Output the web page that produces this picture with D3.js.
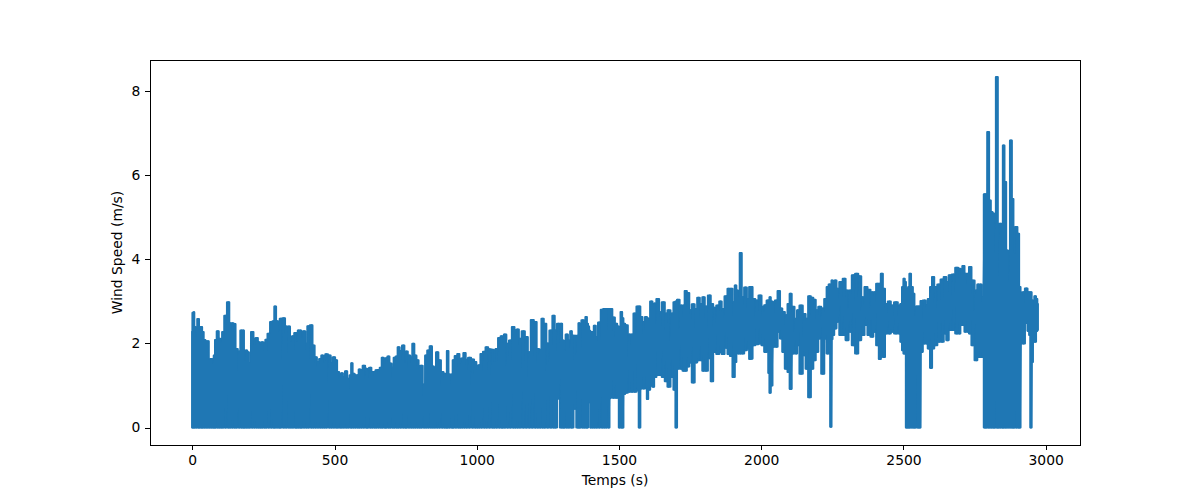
<!DOCTYPE html>
<html>
<head>
<meta charset="utf-8">
<script src="https://cdn.jsdelivr.net/npm/d3@7/dist/d3.min.js"></script>
<style>
html,body{margin:0;padding:0;background:#fff}
svg{display:block}
text{font-family:"DejaVu Sans",sans-serif;font-size:13.89px;fill:#000}
</style>
</head>
<body>
<svg id="chart" width="1200" height="500"></svg>
<script>
const xTicks = [0,500,1000,1500,2000,2500,3000];
const yTicks = [0,2,4,6,8];
const xTitle = "Temps (s)";
const yTitle = "Wind Speed (m/s)";
const floorSpeed = 0;

const calmTime = [
0,2,6,8,14,21,26,32,37,43,
49,55,61,67,73,78,82,90,96,102,
108,117,127,133,141,149,155,165,173,179,
184,190,196,202,211,219,227,234,240,246,
254,260,269,278,286,291,298,305,310,322,
330,340,347,354,363,368,374,380,385,393,
401,408,419,426,434,442,450,457,464,471,
483,490,498,506,512,520,526,533,541,548,
558,560,567,574,582,588,595,603,612,617,
626,633,641,647,655,663,669,677,682,690,
696,705,711,719,725,733,742,749,753,762,
770,777,784,792,799,805,815,822,830,839,
846,853,861,869,879,887,893,897,904,913,
918,927,936,942,949,957,965,974,986,995,
1002,1009,1017,1027,1035,1045,1056,1062,1070,1080,
1088,1092,1099,1109,1118,1129,1136,1144,1152,1164,
1174,1185,1195,1206,1215,1223,1232,1239,1250,1261,
1271,1277];
const calmPeak = [
2.27,2.73,2.74,2.39,2.15,2.58,2.31,2.39,2.27,2.08,
2.05,2.05,1.59,1.63,1.51,1.71,2.08,2.29,2.11,1.99,
2.27,2.66,2.98,2.48,2.48,2.46,1.87,1.81,2.31,2.31,
1.56,1.83,1.79,1.52,2.27,2.11,2.13,2.03,1.95,2.03,
1.98,2.09,2.23,2.51,2.53,2.88,2.53,2.27,2.59,2.60,
2.40,2.40,2.03,2.17,2.25,2.03,2.31,2.31,2.11,2.29,
1.99,2.41,2.43,1.95,1.67,1.56,1.63,1.71,1.52,1.74,
1.71,1.52,1.67,1.60,1.32,1.24,1.29,1.20,1.34,1.16,
1.24,1.53,1.28,1.24,1.24,1.38,1.37,1.47,1.40,1.34,
1.42,1.32,1.32,1.36,1.37,1.42,1.66,1.50,1.65,1.69,
1.52,1.42,1.66,1.69,1.91,1.82,1.95,1.53,1.81,1.71,
1.66,1.99,1.71,1.60,1.40,1.47,1.02,1.71,1.83,1.93,
1.45,1.40,1.79,1.60,1.32,1.28,1.21,1.82,1.26,1.26,
1.60,1.70,1.75,1.51,1.64,1.77,1.61,1.66,1.62,1.56,
1.36,1.48,1.75,1.80,1.91,1.86,1.85,1.56,1.87,2.13,
2.17,1.99,2.21,1.99,2.07,2.39,2.31,2.33,2.11,2.29,
2.15,1.79,2.56,2.51,1.87,1.85,2.59,2.47,2.00,2.31,
2.66,2.31];

const gustTime = [
1287,1297,1303,1308,1317,1324,1333,1335,1345,1355,
1360,1363,1373,1379,1385,1389,1393,1397,1401,1408,
1415,1422,1431,1441,1448,1455,1464,1469,1472,1481,
1490,1497,1502,1509,1513,1518,1525,1537,1546,1556,
1567,1572,1578,1587,1596,1600,1605,1614,1621,1626,
1637,1645,1656,1666,1675,1687,1696,1701,1707,1719,
1728,1734,1743,1751,1761,1771,1779,1789,1797,1806,
1819,1826,1836,1848,1857,1865,1877,1886,1894,1904,
1910,1915,1921,1928,1935,1945,1954,1961,1966,1973,
1985,1996,2006,2015,2023,2027,2031,2036,2043,2053,
2062,2070,2078,2088,2097,2103,2111,2123,2129,2140,
2152,2160,2170,2179,2187,2196,2205,2217,2226,2234,
2240,2245,2249,2252,2261,2268,2281,2292,2301,2313,
2324,2336,2346,2357,2369,2378,2390,2398,2410,2417,
2424,2431,2439,2451,2460,2474,2486,2492,2498,2502,
2507,2510,2514,2519,2523,2530,2536,2541,2547,2551,
2554,2558,2562,2574,2582,2589,2598,2603,2613,2625,
2636,2647,2654,2664,2676,2688,2697,2703,2711,2718,
2727,2734,2744,2756,2763,2771,2779,2786,2791,2798,
2804,2810,2816,2821,2829,2834,2840,2847,2852,2858,
2864,2871,2878,2884,2889,2897,2904,2909,2914,2922,
2932,2940,2944,2948,2953,2957,2963,2969,2972];
const gustPeak = [
2.47,2.47,2.07,1.83,2.21,2.07,2.29,2.19,2.18,2.18,
2.48,2.35,2.55,2.31,2.63,2.47,2.40,2.30,2.27,2.27,
2.42,2.15,2.50,2.80,2.82,2.82,2.82,2.82,2.82,2.62,
2.47,2.40,2.37,2.75,2.60,2.47,2.43,2.21,2.21,2.71,
2.88,2.88,2.63,2.51,2.63,2.60,2.51,3.00,2.90,2.95,
3.06,2.74,2.98,2.71,2.79,2.71,2.98,3.00,3.04,2.90,
2.90,3.25,3.20,2.79,2.93,2.82,3.09,2.94,3.10,2.88,
3.14,2.94,2.85,2.90,3.00,2.82,3.12,3.30,3.30,2.98,
3.38,3.26,3.10,4.15,3.10,3.33,3.06,3.34,3.34,3.06,
3.02,3.14,2.87,2.91,3.02,3.00,3.10,3.00,2.98,3.02,
3.25,2.83,2.75,2.67,2.94,3.18,2.87,2.59,2.79,2.90,
2.70,2.59,3.12,3.09,3.04,2.79,2.87,2.83,3.06,3.34,
3.40,3.38,3.50,3.48,3.50,3.30,3.46,3.54,3.26,3.26,
3.62,3.66,3.60,3.10,3.34,3.28,3.22,3.22,3.42,3.42,
3.66,3.30,2.94,3.00,2.90,2.98,2.90,2.94,3.34,3.54,
3.46,3.26,3.30,3.34,3.66,3.34,3.18,2.63,2.88,2.88,
2.88,2.86,3.01,3.02,2.90,3.06,3.34,3.58,3.34,3.40,
3.52,3.58,3.46,3.62,3.64,3.80,3.78,3.62,3.84,3.66,
3.66,3.82,3.50,3.26,3.40,3.40,3.10,5.55,5.55,7.03,
5.40,5.13,5.09,4.13,8.34,3.58,4.85,4.85,6.71,5.84,
4.21,3.46,6.83,5.44,4.13,4.77,4.61,3.34,3.18,3.22,
3.31,3.22,3.22,3.22,3.02,2.78,3.12,3.06,2.94];
const gustLow = [
0.69,0,0,0,0,0,0,0,0.45,0,
0,0,0,0,0,0,0.80,0.60,0,0,
0,0,0,0,0,0,0,0.70,0.82,0.71,
0.71,0.71,0,0,0,0.80,0.83,0.85,0.85,0.85,
0.90,0,0.93,0.93,0.98,0.68,0.90,1.00,0.97,1.20,
1.25,1.25,1.20,1.10,0.97,1.20,0.90,0,1.40,1.40,
1.35,1.35,1.45,1.55,1.07,1.55,1.60,1.60,1.35,1.35,
1.65,1.10,1.80,1.75,1.80,1.75,1.90,1.75,1.70,1.20,
1.56,1.80,1.76,1.76,1.76,1.84,1.88,1.63,1.64,1.96,
1.98,2.00,1.96,1.80,1.96,1.30,0.83,1.00,1.92,1.92,
2.28,2.12,1.80,1.40,1.32,0.92,1.76,1.76,1.96,1.28,
1.72,1.40,0.72,1.40,1.60,1.80,2.12,1.28,2.12,1.76,
1.80,0.02,2.10,2.20,2.36,2.52,2.20,2.20,2.08,2.28,
1.96,1.76,2.08,2.20,2.44,2.20,2.16,2.28,1.96,1.63,
1.84,1.68,2.24,2.24,2.28,2.24,2.24,2.04,1.84,1.76,
1.76,0,0,0,0,0,0,0,1.68,0,
0,0,1.80,2.00,2.00,1.88,1.42,1.88,1.96,2.04,
2.04,2.24,2.08,2.32,2.32,2.24,2.24,2.44,2.44,2.28,
2.28,2.24,1.96,1.60,1.68,1.68,1.68,0,0,0,
0,0,0,0,0,0,0,0,0,0,
0,0,0,0,0,0,0,0,2.00,2.00,
2.49,2.30,2.20,0,1.56,2.04,2.04,2.30,2.33];

const plot = {left:150, right:1080, top:60, bottom:445};
const svg = d3.select("#chart");

const x = d3.scaleLinear().domain([-148.6, 3120.6]).range([plot.left, plot.right]);
const y = d3.scaleLinear().domain([-0.4165, 8.7465]).range([plot.bottom, plot.top]);

const rows = [];
calmTime.forEach((t,i) => rows.push({t, hi:calmPeak[i], lo:floorSpeed}));
gustTime.forEach((t,i) => rows.push({t, hi:gustPeak[i], lo:gustLow[i]}));

// The recording oscillates faster than a pixel, so it reads as a solid band
// between its upper and lower readings, with the same 1.5pt pen round it.
const band = d3.area().curve(d3.curveStep).x(d => x(d.t)).y0(d => y(d.lo)).y1(d => y(d.hi));
svg.append("path")
  .attr("d", band(rows))
  .attr("fill", "#1f77b4")
  .attr("stroke", "#1f77b4")
  .attr("stroke-width", 2.08)
  .attr("stroke-linejoin", "round");

const swing = rows.flatMap(d => [[d.t, d.hi], [d.t, d.lo]]);
svg.append("path")
  .attr("d", d3.line().x(d => x(d[0])).y(d => y(d[1]))(swing))
  .attr("fill", "none")
  .attr("stroke", "#1f77b4")
  .attr("stroke-width", 2.08)
  .attr("stroke-linejoin", "round")
  .attr("stroke-linecap", "square");

const tickLen = 4.86, tickPad = 4.86;
const gx = svg.append("g").attr("transform", `translate(0,${plot.bottom})`)
  .call(d3.axisBottom(x).tickValues(xTicks).tickFormat(d3.format("d")).tickSize(tickLen).tickPadding(tickPad));
const gy = svg.append("g").attr("transform", `translate(${plot.left},0)`)
  .call(d3.axisLeft(y).tickValues(yTicks).tickFormat(d3.format("d")).tickSize(tickLen).tickPadding(tickPad));
[gx, gy].forEach(g => {
  g.select(".domain").remove();
  g.attr("font-family", null).attr("font-size", null);
  g.selectAll(".tick line").attr("stroke", "#000").attr("stroke-width", 1).attr("shape-rendering", "crispEdges");
  g.selectAll(".tick text").attr("fill", "#000");
});

svg.append("rect")
  .attr("x", plot.left + 0.5).attr("y", plot.top + 0.5)
  .attr("width", plot.right - plot.left).attr("height", plot.bottom - plot.top)
  .attr("fill", "none").attr("stroke", "#000").attr("stroke-width", 1);

svg.append("text").attr("x", (plot.left + plot.right) / 2).attr("y", 485)
  .attr("text-anchor", "middle").text(xTitle);
svg.append("text")
  .attr("transform", `translate(122,${(plot.top + plot.bottom) / 2}) rotate(-90)`)
  .attr("text-anchor", "middle").text(yTitle);
</script>
</body>
</html>
